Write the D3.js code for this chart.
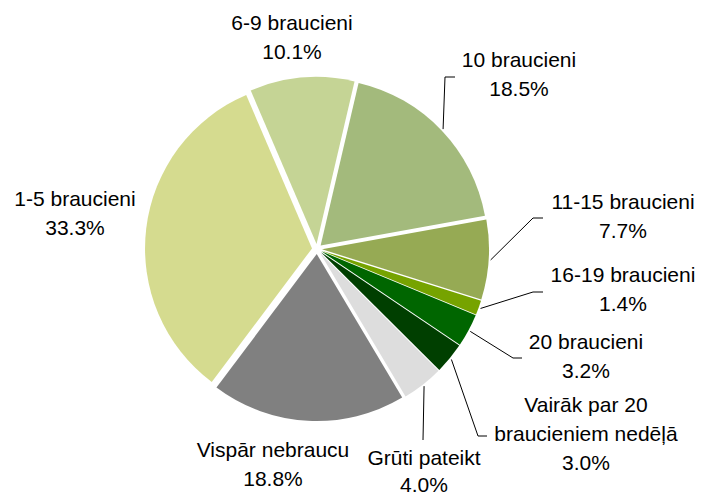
<!DOCTYPE html>
<html>
<head>
<meta charset="utf-8">
<script src="https://cdn.jsdelivr.net/npm/d3@7"></script>
<style>
  html, body { margin: 0; padding: 0; background: #fff; }
  svg text { font-family: "Liberation Sans", Arial, sans-serif; font-size: 21px; fill: #000; }
</style>
</head>
<body>
<svg id="chart" width="702" height="497"></svg>
<script>
const categories = [
  "1-5 braucieni",
  "6-9 braucieni",
  "10 braucieni",
  "11-15 braucieni",
  "16-19 braucieni",
  "20 braucieni",
  "Vairāk par 20 braucieniem nedēļā",
  "Grūti pateikt",
  "Vispār nebraucu"
];
const shares = [33.3, 10.1, 18.5, 7.7, 1.4, 3.2, 3.0, 4.0, 18.8];
const sliceColors = ["#d5db8f", "#c5d495", "#a3ba7c", "#96aa54", "#76a300", "#006600", "#003f00", "#dddddd", "#808080"];

const data = categories.map((c, i) => ({ name: c, value: shares[i], color: sliceColors[i] }));

// layout
const CX = 317, CY = 249, R = 167, EXPLODE = 5, LINE_H = 29;
const rad = deg => deg * Math.PI / 180;

// label placement (centre x, first baseline) and leader bends
const labelLayout = {
  "1-5 braucieni": { x: 75, y: 205.5 },
  "6-9 braucieni": { x: 292, y: 29.5 },
  "10 braucieni": { x: 519, y: 66.5, leader: [[445, 77], [455, 77]] },
  "11-15 braucieni": { x: 623, y: 208.5, leader: [[533, 218], [543, 218]] },
  "16-19 braucieni": { x: 623, y: 281.5, leader: [[533, 292], [543, 292]] },
  "20 braucieni": { x: 586, y: 348.5, leader: [[513, 358], [522, 358]] },
  "Vairāk par 20 braucieniem nedēļā": { x: 586, y: 411.5, lines: ["Vairāk par 20", "braucieniem nedēļā"], leader: [[478, 436], [487, 436]] },
  "Grūti pateikt": { x: 424, y: 465, lineH: 27, leader: [[423, 440]] },
  "Vispār nebraucu": { x: 273, y: 456.5 }
};

const svg = d3.select("#chart");

const pie = d3.pie()
  .sort(null)
  .value(d => d.value)
  .startAngle(rad(-143.1))
  .endAngle(rad(216.9));

const arcs = pie(data);
const arc = d3.arc().innerRadius(0).outerRadius(R);
const leaderArc = d3.arc().innerRadius(174).outerRadius(174);

const chart = svg.append("g").attr("transform", `translate(${CX}, ${CY})`);

// Render slices (all pulled out a little)
chart.selectAll(".slice")
  .data(arcs)
  .enter()
  .append("path")
  .attr("class", "slice")
  .attr("d", arc)
  .attr("fill", d => d.data.color)
  .attr("transform", d => {
    const mid = (d.startAngle + d.endAngle) / 2;
    return `translate(${Math.sin(mid) * EXPLODE}, ${-Math.cos(mid) * EXPLODE})`;
  });

// Render leader lines
const line = d3.line();
arcs.forEach(d => {
  const lay = labelLayout[d.data.name];
  if (!lay.leader) return;
  const [sx, sy] = leaderArc.centroid(d);
  const pts = [[sx + CX, sy + CY]].concat(lay.leader);
  svg.append("path")
    .attr("d", line(pts))
    .attr("fill", "none")
    .attr("stroke", "#000")
    .attr("stroke-width", 1);
});

// Render labels
arcs.forEach(d => {
  const lay = labelLayout[d.data.name];
  const lines = (lay.lines || [d.data.name]).concat([d.data.value.toFixed(1) + "%"]);
  const t = svg.append("text")
    .attr("text-anchor", "middle")
    .attr("x", lay.x)
    .attr("y", lay.y);
  lines.forEach((l, i) => {
    t.append("tspan")
      .attr("x", lay.x)
      .attr("dy", i === 0 ? 0 : (lay.lineH || LINE_H))
      .text(l);
  });
});
</script>
</body>
</html>
